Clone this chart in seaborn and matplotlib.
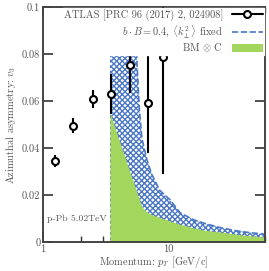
import numpy as np
import matplotlib
matplotlib.use("Agg")
import matplotlib.pyplot as plt
from matplotlib.lines import Line2D
import seaborn as sns

# ATLAS data points
pt = [1.25, 1.74, 2.53, 3.5, 4.97, 6.96, 9.07]
v3 = [0.0346, 0.0495, 0.0609, 0.0628, 0.0753, 0.059, 0.0789]
v3_err = [0.0026, 0.0032, 0.0038, 0.0085, 0.0118, 0.0213, 0.050]

# model bands
band_pt = [3.44, 4.0, 4.5, 5.0, 5.3, 5.6, 5.9, 6.2, 6.8, 7.4, 8.6, 10.4,
           12.5, 16, 20, 26, 35, 45, 60]
bb_hi = [0.30, 0.22, 0.16, 0.12, 0.10, 0.081, 0.057, 0.044, 0.035, 0.029,
         0.022, 0.018, 0.0125, 0.0095, 0.0078, 0.0062, 0.0048, 0.004, 0.0033]
bm_hi = [0.055, 0.0445, 0.0365, 0.0294, 0.0255, 0.0217, 0.0181, 0.015,
         0.0127, 0.0117, 0.0104, 0.009, 0.0075, 0.006, 0.005, 0.0043,
         0.0033, 0.0027, 0.0021]

lbl_data = "ATLAS [PRC 96 (2017) 2, 024908]"
lbl_bb = r"$b\cdot B = 0.4$, $\langle k_\perp^2\rangle$ fixed"
lbl_bm = r"BM $\otimes$ C"

blue = "#4a78c4"
green = "#a3d65c"
grey = "#555555"

sns.set_theme(style="ticks")
plt.rcParams["font.family"] = "serif"
plt.rcParams["font.serif"] = ["cmr10", "DejaVu Serif"]
plt.rcParams["mathtext.fontset"] = "cm"
plt.rcParams["axes.formatter.use_mathtext"] = True
plt.rcParams["hatch.linewidth"] = 1.0

fig = plt.figure(figsize=(2.69, 2.71), dpi=100)
ax = fig.add_axes([0.16, 0.107, 0.825, 0.867])
ax.set_xscale("log")

ax.fill_between(band_pt, 0, bb_hi, facecolor="none", edgecolor=blue,
                hatch="xxxxxx", linewidth=0, zorder=1)
sns.lineplot(x=band_pt, y=bb_hi, ax=ax, color=blue, linestyle="--",
             linewidth=1.2, label=lbl_bb, zorder=1.5)
ax.fill_between(band_pt, 0, bm_hi, color=green, linewidth=0,
                label=lbl_bm, zorder=2)

ax.errorbar(pt, v3, yerr=v3_err, fmt="o", color="black", ecolor="black",
            elinewidth=1.5, markersize=5, markerfacecolor="white",
            markeredgewidth=1.5, zorder=3)

ax.set_xlim(1, 60)
ax.set_ylim(0, 0.1)
ax.set_xticks([1, 10], labels=["1", "10"])
ax.set_yticks([0, 0.02, 0.04, 0.06, 0.08, 0.1],
              labels=["0", "0.02", "0.04", "0.06", "0.08", "0.1"])

for s in ax.spines.values():
    s.set_color("#444444")
    s.set_linewidth(1.4)
ax.tick_params(which="both", direction="in", top=True, right=True,
               labelsize=7.5, labelcolor=grey, color="#333333")
ax.tick_params(which="major", length=7, width=1.2, pad=2)
ax.tick_params(which="minor", length=4, width=1.0)

ax.set_xlabel(r"Momentum: $p_T$ [GeV/c]", fontsize=7.5, color=grey, labelpad=0)
ax.set_ylabel(r"Azimuthal asymmetry: $v_3$", fontsize=7.5, color=grey, labelpad=3)
ax.text(0.02, 0.1, "p-Pb 5.02TeV", transform=ax.transAxes, fontsize=7,
        color=grey, ha="left", va="center")

handles, labels = ax.get_legend_handles_labels()
data_handle = Line2D([], [], color="black", linewidth=1.5, marker="o",
                     markersize=5, markerfacecolor="white",
                     markeredgewidth=1.5)
leg = ax.legend([data_handle, handles[labels.index(lbl_bb)],
                 handles[labels.index(lbl_bm)]],
                [lbl_data, lbl_bb, lbl_bm],
                loc="upper right", fontsize=7.5, markerfirst=False,
                frameon=True, framealpha=1, edgecolor="white",
                facecolor="white", fancybox=False, borderaxespad=0.1,
                borderpad=0.1, handlelength=3, labelspacing=0.2)
for t in leg.get_texts():
    t.set_color(grey)

fig.savefig("out.png", dpi=100)
